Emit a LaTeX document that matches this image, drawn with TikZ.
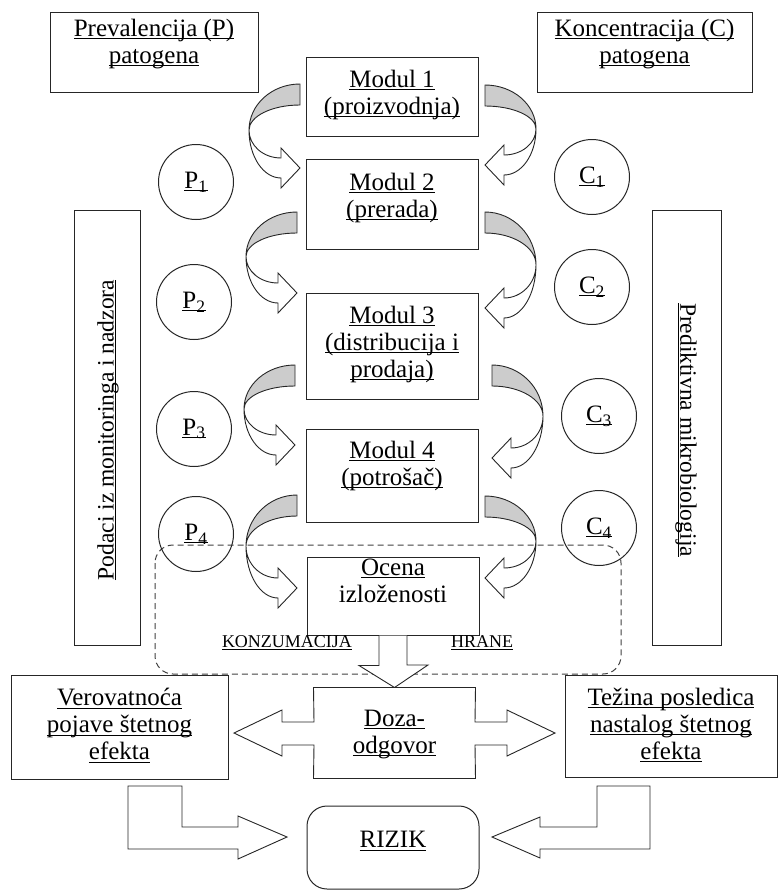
\documentclass[tikz,border=0pt]{standalone}
\usepackage{fontspec}
\setmainfont{Liberation Serif}
\usepackage{xcolor}
\usepackage{tikz}
\usetikzlibrary{positioning}

% podvuceni tekst
\newcommand\uln[1]{\setbox0=\hbox{#1}\rlap{\rule[-2.6pt]{\wd0}{0.9pt}}\box0}

% zakrivljena strelica: x, y, visina, smer (1 = levo, -1 = desno)
\newcommand\modarrow[4]{%
  \begin{scope}[shift={(#1,#2)}, xscale=#4]
    \pgfmathsetmacro\mmid{0.55*#3}
    \filldraw[backside] (0,0) arc[start angle=-90, end angle=-180, x radius=51, y radius=\mmid]
      arc[start angle=180, end angle=270, x radius=51, y radius=\mmid-21] -- cycle;
    \filldraw[frontside] (-51,\mmid) arc[start angle=180, end angle=90, x radius=32, y radius=#3+10-\mmid]
      -- ++(0,10) -- (0,#3) -- (-19,#3-20) -- (-19,#3-10)
      arc[start angle=90, end angle=180, x radius=32, y radius=#3-10-\mmid] -- cycle;
  \end{scope}}

\begin{document}
\begin{tikzpicture}[
  x=1pt, y=-1pt,
  line width=1pt,
  font=\fontsize{25}{27}\selectfont,
  box/.style={draw=black!85, rectangle, inner sep=0pt},
  txt/.style={align=center, inner sep=0pt},
  krug/.style={draw=black!85, circle, minimum size=75pt, inner sep=0pt},
  backside/.style={draw=black!85, fill=gray!40, line width=0.9pt},
  frontside/.style={draw=black!85, fill=white, line width=0.9pt},
  blockarrow/.style={draw=black!85, fill=white, line width=0.9pt},
  mali/.style={font=\fontsize{18}{20}\selectfont, inner sep=0pt, anchor=base}
]
\useasboundingbox (0,0) rectangle (778,894);

% Okvir izlozenosti
\draw[black!75, dashed, dash pattern=on 6pt off 4pt, rounded corners=18pt] (155,545) rectangle (621,674);

% Gornji cvorovi
\node[box, minimum width=208pt, minimum height=80pt] (prev) at (154,52) {};
\node[txt, below=7pt of prev.north] (prevt) {\uln{Prevalencija (P)}\\\uln{patogena}};
\node[box, minimum width=215pt, minimum height=80pt] (konc) at (644.5,52) {};
\node[txt, below=7pt of konc.north] (konct) {\uln{Koncentracija (C)}\\\uln{patogena}};

% Bocni okviri
\node[box, minimum width=66pt, minimum height=435pt] (monit) at (107,427.5) {};
\node[txt, rotate=90, font=\fontsize{23.5}{26}\selectfont] (monitt) at (108,430) {\uln{Podaci iz monitoringa i nadzora}};
\node[box, minimum width=69pt, minimum height=435pt] (pred) at (686.5,427.5) {};
\node[txt, rotate=-90, font=\fontsize{23.5}{26}\selectfont] (predt) at (686,430) {\uln{Prediktivna mikrobiologija}};

% Moduli
\node[box, minimum width=172pt, minimum height=79pt] (m1) at (392,96.5) {};
\node[txt, below=13pt of m1.north] (m1t) {\uln{Modul 1}\\\uln{(proizvodnja)}};
\node[box, minimum width=172pt, minimum height=90pt] (m2) at (392,204) {};
\node[txt, below=14pt of m2.north] (m2t) {\uln{Modul 2}\\\uln{(prerada)}};
\node[box, minimum width=172pt, minimum height=106pt] (m3) at (392,346) {};
\node[txt, below=13pt of m3.north] (m3t) {\uln{Modul 3}\\\uln{(distribucija i}\\\uln{prodaja)}};
\node[box, minimum width=172pt, minimum height=93pt] (m4) at (392,475.5) {};
\node[txt, below=12pt of m4.north] (m4t) {\uln{Modul 4}\\\uln{(potrošač)}};
\node[box, minimum width=172pt, minimum height=78pt] (ocena) at (393,596) {};
\node[txt, below=2pt of ocena.north] (ocenat) {\uln{Ocena}\\izloženosti};

% Krugovi
\node[krug] (p1) at (196,182) {\uln{P\textsubscript{1}}};
\node[krug] (p2) at (194,302) {\uln{P\textsubscript{2}}};
\node[krug] (p3) at (194,429) {\uln{P\textsubscript{3}}};
\node[krug] (p4) at (196,534) {\uln{P\textsubscript{4}}};
\node[krug] (c1) at (592,177) {\uln{C\textsubscript{1}}};
\node[krug] (c2) at (592,287) {\uln{C\textsubscript{2}}};
\node[krug] (c3) at (599,416) {\uln{C\textsubscript{3}}};
\node[krug] (c4) at (599,528) {\uln{C\textsubscript{4}}};

% Zakrivljene strelice
\modarrow{300}{84}{84}{1}
\modarrow{297}{212}{81}{1}
\modarrow{295}{365}{80}{1}
\modarrow{297}{495}{93}{1}
\modarrow{485}{85}{80}{-1}
\modarrow{485}{212}{96}{-1}
\modarrow{492}{365}{93}{-1}
\modarrow{485}{496}{82}{-1}

\node[mali] (konz) at (287,647) {\uln{KONZUMACIJA}};
\node[mali] (hrane) at (482,647) {\uln{HRANE}};

% Doza-odgovor
\node[minimum width=161pt, minimum height=90pt, inner sep=0pt] (doza) at (394.5,733) {};
\draw[blockarrow] ([xshift=-14pt]ocena.south) -- ++(0,30) -- ++(-20,0) -- (doza.north)
  -- (428,665) -- (407,665) -- ([xshift=14pt]ocena.south);
\draw[blockarrow] (doza.north west) -- (doza.north east) -- (475,722) -- (507,722) -- (507,710)
  -- (555,733) -- (507,756) -- (507,745) -- (475,745) -- (doza.south east) -- (doza.south west)
  -- (314,745) -- (282,745) -- (282,756) -- (234,733) -- (282,710) -- (282,722) -- (314,722) -- cycle;
\node[txt, below=22pt of doza.north] (dozat) {\uln{Doza-}\\\uln{odgovor}};

% Donji cvorovi
\node[box, minimum width=217pt, minimum height=104pt] (verov) at (119.5,727) {};
\node[txt, below=13.5pt of verov.north] (verovt) {\uln{Verovatnoća}\\\uln{pojave štetnog}\\\uln{efekta}};
\node[box, minimum width=212pt, minimum height=102pt] (tezina) at (671,726) {};
\node[txt, below=13pt of tezina.north] (tezinat) {\uln{Težina posledica}\\\uln{nastalog štetnog}\\\uln{efekta}};
\node[box, rounded corners=20pt, minimum width=172pt, minimum height=83pt] (rizik) at (393,847.5) {};
\node[txt, below=25.5pt of rizik.north] (rizikt) {\uln{RIZIK}};

% Strelice ka riziku
\draw[blockarrow] (128,786) -- (182,786) -- (182,827) -- (238,827) -- (238,816)
  -- (287,837) -- (238,859) -- (238,849) -- (128,849) -- cycle;
\draw[blockarrow] (650,786) -- (597,786) -- (597,827) -- (540,827) -- (540,817)
  -- (492,837) -- (540,858) -- (540,849) -- (650,849) -- cycle;

\end{tikzpicture}
\end{document}
